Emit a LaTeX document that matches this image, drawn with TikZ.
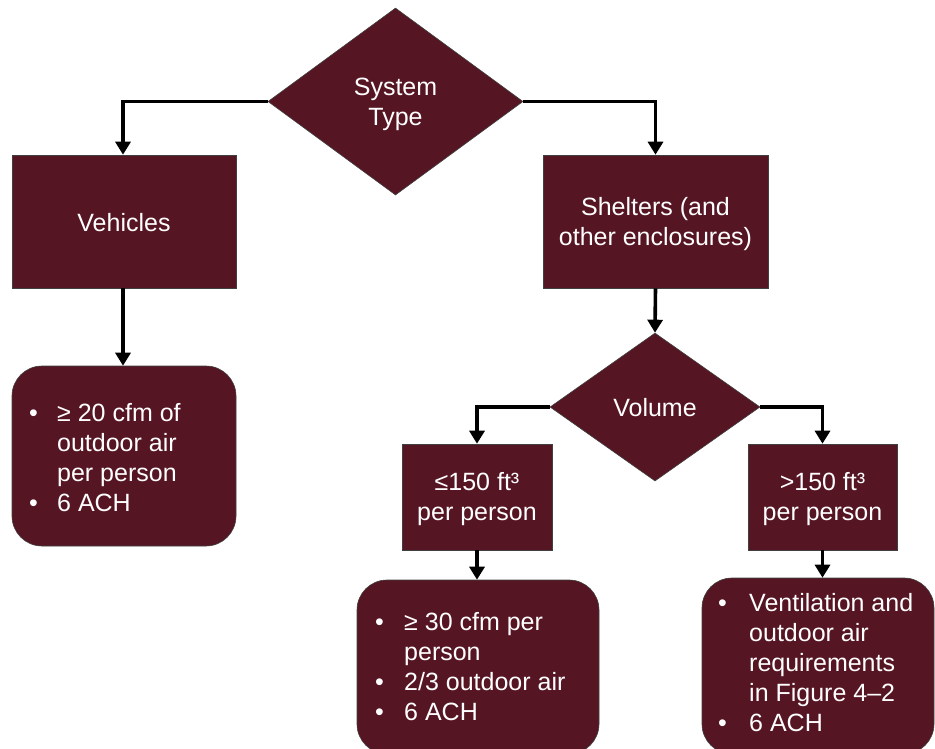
\documentclass[tikz,border=0pt]{standalone}
\usepackage{fontspec}
\setmainfont{Liberation Sans}
\usetikzlibrary{shapes.geometric,arrows.meta}
\definecolor{maroon}{HTML}{561523}
\begin{document}
\begin{tikzpicture}[x=1pt,y=-1pt,
  every node/.style={font=\fontsize{25}{30}\selectfont},
  fillbox/.style={fill=maroon,draw=black!75,line width=0.6pt,text=white,inner sep=0pt,align=center},
  decbox/.style={fillbox,shape=diamond},
  rectbox/.style={fillbox,rectangle},
  roundbox/.style={fillbox,rectangle,rounded corners=30pt},
  lbl/.style={text=white,inner sep=0pt,align=center},
  bultext/.style={text=white,inner sep=0pt,align=left,anchor=west},
  conn/.style={line width=3.6pt,-{Triangle[width=15pt,length=13pt]}}
]
\clip (0,0) rectangle (935,748);
\useasboundingbox (0,0) rectangle (935,748);

\node[decbox,minimum width=255pt,minimum height=187pt] (st) at (395.5,101.5) {};
\node[lbl] (stt) at (395.5,104) {System\\Type};
\node[rectbox,minimum width=224pt,minimum height=133pt] (veh) at (124,221.5) {};
\node[lbl] (veht) at (124,222.5) {Vehicles};
\node[rectbox,minimum width=225pt,minimum height=133pt] (shel) at (655.5,221.5) {};
\node[lbl] (shelt) at (655.5,224.5) {Shelters (and\\other enclosures)};
\node[decbox,minimum width=210pt,minimum height=148pt] (vol) at (655,407) {};
\node[lbl] (volt) at (655,408) {Volume};
\node[rectbox,minimum width=150pt,minimum height=106pt] (le) at (477,497) {};
\node[lbl] (let) at (477,499) {≤150 ft³\\per person};
\node[rectbox,minimum width=149pt,minimum height=106pt] (gt) at (822.5,497) {};
\node[lbl] (gtt) at (822.5,499) {>150 ft³\\per person};
\node[roundbox,minimum width=224pt,minimum height=180pt] (b1) at (124,456) {};
\node[roundbox,minimum width=242pt,minimum height=174pt] (b2) at (478,667) {};
\node[roundbox,minimum width=232pt,minimum height=176pt] (b3) at (818,666) {};

\node[bultext] (t1) at (29,458) {\makebox[28pt][l]{•}≥ 20 cfm of\\\hspace*{28pt}outdoor air\\\hspace*{28pt}per person\\\makebox[28pt][l]{•}6 ACH};
\node[bultext] (t2) at (375,667) {\makebox[29pt][l]{•}≥ 30 cfm per\\\hspace*{29pt}person\\\makebox[29pt][l]{•}2/3 outdoor air\\\makebox[29pt][l]{•}6 ACH};
\node[bultext] (t3) at (718,663) {\makebox[31pt][l]{•}Ventilation and\\\hspace*{31pt}outdoor air\\\hspace*{31pt}requirements\\\hspace*{31pt}in Figure 4–2\\\makebox[31pt][l]{•}6 ACH};

\draw[conn] (st.west) -| ([xshift=-1pt]veh.north);
\draw[conn] (st.east) -| (shel.north);
\draw[conn] ([xshift=-1pt]veh.south) -- ([xshift=-1pt]veh.south |- b1.north);
\draw[conn] (shel.south) -- (vol.north);
\draw[conn] (vol.west) -| (le.north);
\draw[conn] (vol.east) -| (gt.north);
\draw[conn] (le.south) -- (le.south |- b2.north);
\draw[conn] (gt.south) -- (gt.south |- b3.north);
\end{tikzpicture}
\end{document}
